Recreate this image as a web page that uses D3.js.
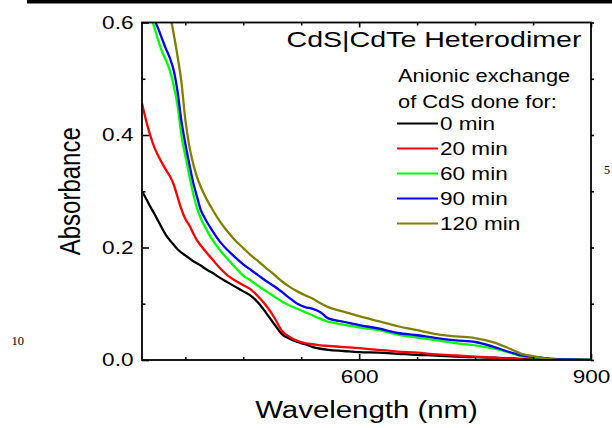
<!DOCTYPE html>
<html>
<head>
<meta charset="utf-8">
<script src="https://cdn.jsdelivr.net/npm/d3@7/dist/d3.min.js"></script>
<style>
  html, body { margin: 0; padding: 0; background: #fff; }
  svg { display: block; }
</style>
</head>
<body>
<script>
// ---------------- DATA ----------------
const wavelength = [319,325,330,335,340,345,350,355,360,365,370,375,380,385,390,395,400,410,420,430,
                    440,450,460,470,480,490,500,510,520,530,540,550,560,580,600,625,650,675,700,725,
                    750,775,790,800,810,820,835,850,875,900];

const abs0min   = [.300,.285,.272,.260,.247,.234,.222,.213,.205,.197, .191,.186,.181,.176,.172,.168,.163,.155,.146,.138,
                   .130,.122,.114,.101,.083,.064,.046,.038,.032,.028, .023,.020,.018,.016,.014,.013,.011,.009,.008,.006,
                   .005,.004,.003,.003,.002,.002,.001,.001,.0005,0];
const abs20min  = [.456,.422,.398,.378,.363,.350,.338,.327,.312,.290, .268,.251,.240,.226,.213,.204,.195,.179,.163,.150,
                   .141,.133,.125,.112,.096,.076,.052,.041,.034,.030, .028,.026,.025,.023,.021,.018,.015,.013,.010,.008,
                   .006,.004,.002,.0015,.001,.0005,0,0,0,0];
const abs60min  = [.665,.638,.613,.591,.568,.548,.533,.515,.488,.452, .399,.363,.329,.297,.271,.252,.238,.214,.195,.179,
                   .164,.150,.141,.131,.122,.113,.104,.097,.091,.085, .079,.073,.068,.063,.058,.053,.045,.040,.035,.030,
                   .026,.020,.015,.011,.007,.005,.004,.002,.001,0];
const abs90min  = [.680,.645,.620,.605,.589,.571,.553,.537,.515,.477, .425,.385,.350,.317,.291,.267,.253,.230,.210,.195,
                   .182,.170,.160,.150,.140,.131,.121,.110,.100,.094, .091,.085,.074,.068,.062,.056,.048,.044,.039,.035,
                   .032,.023,.016,.012,.008,.006,.004,.002,.001,0];
const abs120min = [.800,.770,.740,.710,.685,.660,.640,.615,.580,.540, .494,.428,.382,.350,.326,.308,.293,.268,.246,.228,
                   .212,.199,.186,.175,.163,.152,.140,.130,.122,.115, .109,.101,.094,.086,.078,.069,.060,.053,.046,.042,
                   .039,.031,.023,.017,.011,.008,.004,.001,0,0];

const seriesLabels = ["0 min", "20 min", "60 min", "90 min", "120 min"];
const seriesValues = [abs0min, abs20min, abs60min, abs90min, abs120min];
const seriesColors = ["#000000", "#ff0000", "#00ff00", "#0000ff", "#808000"];

const xMajorTicks = [600, 900];
const xMinorTicks = [375, 450, 525, 675, 750, 825];
const yMajorTicks = [0, 0.2, 0.4, 0.6];
const yMinorTicks = [0.1, 0.3, 0.5];

const titleText = "CdS|CdTe Heterodimer";
const legendHeader = ["Anionic exchange", "of CdS done for:"];
const xLabel = "Wavelength (nm)";
const yLabel = "Absorbance";

// ---------------- LAYOUT ----------------
const W = 612, H = 428;
const L = 142, R = 591, T = 22.5, B = 360;
const SX = 1.22; // horizontal stretch of the original picture's text
const FONT = "'Liberation Sans', Arial, Helvetica, sans-serif";

const svg = d3.select("body").append("svg").attr("width", W).attr("height", H);

const x = d3.scaleLinear().domain([319, 900]).range([L, R]);
const y = d3.scaleLinear().domain([0, 0.6]).range([B, T]);

function addText(px, py, str, size, anchor, sx, family) {
  const g = svg.append("g").attr("transform", `translate(${px},${py}) scale(${sx},1)`);
  return g.append("text").attr("x", 0).attr("y", 0)
    .attr("text-anchor", anchor).attr("font-size", size)
    .attr("font-family", family || FONT).attr("fill", "#000").text(str);
}

// page artefacts
svg.append("rect").attr("x", 27).attr("y", 0).attr("width", W - 27).attr("height", 3.5).attr("fill", "#000");
addText(11.5, 345, "10", 12.5, "start", 1, "'Liberation Serif', 'Times New Roman', serif");
addText(604, 174, "5", 12, "start", 1, "'Liberation Serif', 'Times New Roman', serif");

// ---------------- CURVES ----------------
svg.append("clipPath").attr("id", "plotclip")
  .append("rect").attr("x", L).attr("y", T).attr("width", R - L).attr("height", B - T);

const line = d3.line().x(d => x(d[0])).y(d => y(d[1])).curve(d3.curveMonotoneX);
const curves = svg.append("g").attr("clip-path", "url(#plotclip)");
seriesValues.forEach((vals, i) => {
  curves.append("path")
    .attr("d", line(wavelength.map((w, j) => [w, vals[j]])))
    .attr("fill", "none").attr("stroke", seriesColors[i])
    .attr("stroke-width", 2.3).attr("stroke-linejoin", "round");
});

// ---------------- AXES ----------------
function styleAxis(g) {
  g.select(".domain").remove();
  g.selectAll(".tick line").attr("stroke", "#000").attr("stroke-width", 1.6);
  g.selectAll("text").attr("font-size", 18.5).attr("font-family", FONT).attr("fill", "#000")
    .attr("transform", `scale(${SX},1)`);
}

svg.append("g").attr("transform", `translate(0,${B})`)
  .call(d3.axisBottom(x).tickValues(xMajorTicks).tickSize(-6).tickPadding(10).tickFormat(d3.format("d")))
  .call(styleAxis);
svg.append("g").attr("transform", `translate(0,${B})`)
  .call(d3.axisBottom(x).tickValues(xMinorTicks).tickSize(-3).tickFormat(""))
  .call(styleAxis);
svg.append("g").attr("transform", `translate(0,${T})`)
  .call(d3.axisTop(x).tickValues(xMajorTicks).tickSize(-5).tickFormat(""))
  .call(styleAxis);
svg.append("g").attr("transform", `translate(0,${T})`)
  .call(d3.axisTop(x).tickValues(xMinorTicks).tickSize(-3).tickFormat(""))
  .call(styleAxis);

svg.append("g").attr("transform", `translate(${L},0)`)
  .call(d3.axisLeft(y).tickValues(yMajorTicks).tickSize(-7).tickPadding(7).tickFormat(d3.format(".1f")))
  .call(styleAxis);
svg.append("g").attr("transform", `translate(${L},0)`)
  .call(d3.axisLeft(y).tickValues(yMinorTicks).tickSize(-3.5).tickFormat(""))
  .call(styleAxis);
svg.append("g").attr("transform", `translate(${R},0)`)
  .call(d3.axisRight(y).tickValues(yMajorTicks.concat(yMinorTicks)).tickSize(3).tickFormat(""))
  .call(styleAxis);

// frame
svg.append("rect").attr("x", L).attr("y", T).attr("width", R - L).attr("height", B - T)
  .attr("fill", "none").attr("stroke", "#000").attr("stroke-width", 1.8);

// axis titles
addText((L + R) / 2, 418, xLabel, 23.5, "middle", 1.25);
svg.append("g").attr("transform", `translate(80,${(T + B) / 2}) scale(1.25,1) rotate(-90)`)
  .append("text").attr("text-anchor", "middle").attr("font-size", 24)
  .attr("font-family", FONT).attr("fill", "#000").text(yLabel);

// ---------------- LEGEND ----------------
addText(581.5, 47.3, titleText, 22, "end", 1.3);
addText(398, 81.7, legendHeader[0], 18.5, "start", 1.18);
addText(398, 108, legendHeader[1], 18.5, "start", 1.18);

seriesLabels.forEach((lab, i) => {
  const ly = 123.5 + i * 25;
  svg.append("line").attr("x1", 397).attr("x2", 438).attr("y1", ly).attr("y2", ly)
    .attr("stroke", seriesColors[i]).attr("stroke-width", 2);
  addText(440, ly + 6.7, lab, 18.5, "start", SX);
});
</script>
</body>
</html>
